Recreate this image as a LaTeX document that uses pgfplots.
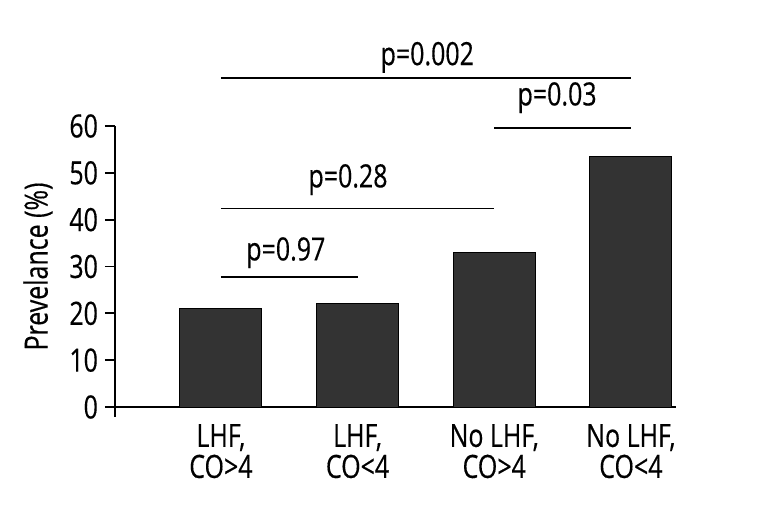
\documentclass[border=0pt]{standalone}
\usepackage{fontspec}
\setmainfont{Open Sans}[FakeStretch=0.78, FakeBold=0.4]
\usepackage{pgfplots}
\pgfplotsset{compat=1.18}
\definecolor{barc}{HTML}{333333}
\begin{document}
\begin{tikzpicture}[font=\fontsize{16}{15.5}\selectfont]
\path[use as bounding box] (-57.5pt,-53.5pt) rectangle (328pt,203.5pt);
\begin{axis}[
  at={(0pt,0pt)}, anchor=south west,
  scale only axis, width=280.5pt, height=140.5pt,
  xmin=-0.775, xmax=3.33, ymin=0, ymax=60,
  axis lines=left,
  axis line style={-, line width=0.9pt, black},
  ytick={0,10,...,60},
  tick align=outside, major tick length=5pt,
  ytick style={line width=0.9pt, black},
  xtick={0,1,2,3},
  xtick style={draw=none},
  xticklabels={{LHF,\\CO>4},{LHF,\\CO<4},{No LHF,\\CO>4},{No LHF,\\CO<4}},
  xticklabel style={align=center, anchor=north},
  ylabel={Prevelance (\%)},
  ylabel style={at={([xshift=-38.5pt]axis description cs:0,0.5)}, anchor=center},
  clip=false,
  /pgf/number format/assume math mode=true,
]
\addplot[ybar, bar width=0.6, fill=barc, draw=black, line width=0.5pt]
  coordinates {(0,21) (1,22) (2,33) (3,53.4)};
\addplot[black, line width=0.9pt] coordinates {(0,27.7) (1,27.7)};
\addplot[black, line width=0.9pt] coordinates {(0,42.4) (2,42.4)};
\addplot[black, line width=0.9pt] coordinates {(2,59.5) (3,59.5)};
\addplot[black, line width=0.9pt] coordinates {(0,70.2) (3,70.2)};
\node[anchor=base] at (axis cs:0.475,31.3) {p=0.97};
\node[anchor=base] at (axis cs:0.93,46.9) {p=0.28};
\node[anchor=base] at (axis cs:2.46,64.4) {p=0.03};
\node[anchor=base] at (axis cs:1.51,73.0) {p=0.002};
\draw[line width=0.9pt] (axis cs:-0.775,0) -- ++(0pt,-5pt);
\end{axis}
\end{tikzpicture}
\end{document}
